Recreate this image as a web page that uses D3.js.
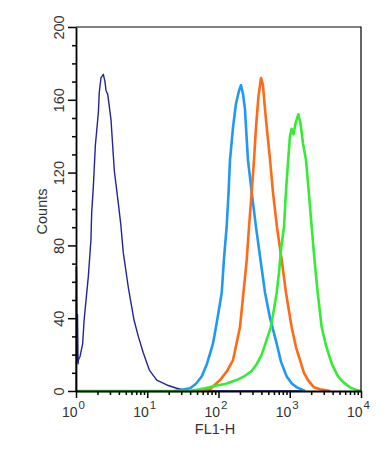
<!DOCTYPE html>
<html>
<head>
<meta charset="utf-8">
<script src="https://cdn.jsdelivr.net/npm/d3@7/dist/d3.min.js"></script>
<style>
  body { margin: 0; background: #fff; }
  svg text { font-family: "Liberation Sans", Arial, sans-serif; fill: #333; }
</style>
</head>
<body>
<svg id="chart" width="392" height="452"></svg>
<script>
// DATA (FL1-H channel value, counts)
var controlFL1 = [1.0, 1.005, 1.01, 1.015, 1.02, 1.03, 1.04, 1.05, 1.07, 1.08, 1.14, 1.24, 1.30, 1.49, 1.62, 1.66, 1.75, 1.87, 2.06, 2.12, 2.24, 2.42, 2.55, 2.64, 2.79, 3.10, 3.27, 3.45, 3.93, 4.24, 4.61, 5.42, 6.52, 7.49, 8.79, 10.7, 13.6, 18.8, 25.9, 33.9, 39.8, 1500];
var controlCounts = [0, 68, 20, 68, 62, 16, 42, 42, 15, 17, 19, 26, 39, 63, 83, 98, 112, 135, 153, 164, 172, 174, 170, 165, 163, 149, 135, 121, 103, 92, 76, 57, 39, 30, 21, 11.5, 6, 3.3, 1.5, 0.5, 0, 0];

var blueFL1 = [24.5, 40, 48.3, 58.1, 69, 83.7, 96.8, 111, 119, 130, 138, 145, 160, 176, 194, 207, 221, 235, 259, 295, 336, 389, 450, 529, 656, 754, 906, 1076, 1260, 1640];
var blueCounts = [0, 1.5, 4, 8, 15, 26, 40, 54, 72, 90, 108, 127, 145, 158, 165, 168, 163, 155, 127, 108, 90, 72, 54, 40, 26, 16, 8, 4, 2, 0];

var orangeFL1 = [40, 55, 76, 105, 132, 160, 200, 224, 249, 268, 292, 315, 336, 364, 395, 421, 442, 475, 529, 582, 662, 771, 886, 1064, 1224, 1393, 1585, 1803, 2188, 2660, 3670];
var orangeCounts = [0, 0.5, 1, 6, 11, 17, 35, 54, 72, 90, 109, 127, 145, 162, 172, 168, 158, 145, 127, 109, 90, 72, 54, 35, 24, 17, 10, 6, 2, 1, 0];

var greenFL1 = [1, 40, 64.6, 94.4, 127, 180, 228, 292, 347, 404, 464, 541, 602, 656, 707, 754, 830, 886, 955, 1007, 1064, 1129, 1205, 1318, 1415, 1535, 1690, 1863, 2033, 2225, 2467, 2808, 3227, 3880, 4755, 5585, 7016, 8710, 10000];
var greenCounts = [0, 0, 1.5, 3, 4, 6, 8, 11, 15, 20, 27, 35, 45, 54, 65, 78, 90, 110, 128, 140, 144, 141, 147, 152, 147, 136, 127, 108, 90, 72, 54, 35, 25, 15, 8, 5, 2, 0.5, 0];

var xMajor = [1, 10, 100, 1000, 10000];
var xExponents = ["0", "1", "2", "3", "4"];
var yMajor = [0, 40, 80, 120, 160, 200];

var series = [
  { fl1: controlFL1, counts: controlCounts, color: "#23239b", width: 1.4 },
  { fl1: blueFL1, counts: blueCounts, color: "#2398f0", width: 2.6 },
  { fl1: orangeFL1, counts: orangeCounts, color: "#ff6a16", width: 2.6 },
  { fl1: greenFL1, counts: greenCounts, color: "#33ec33", width: 2.6 }
];

// LAYOUT
var plotLeft = 76, plotRight = 361, plotTop = 27, plotBottom = 391;
var svg = d3.select("#chart");

var x = d3.scaleLog().domain([1, 10000]).range([plotLeft, plotRight]);
var y = d3.scaleLinear().domain([0, 200]).range([plotBottom, plotTop]);

// minor tick values
var xMinor = [];
xMajor.slice(0, 4).forEach(function (d) {
  for (var k = 2; k <= 9; k++) xMinor.push(d * k);
});
var yMinor = d3.range(0, 201, 10).filter(function (d) { return d % 40 !== 0; });

// CURVES
var line = d3.line()
  .x(function (d) { return x(d[0]); })
  .y(function (d) { return y(d[1]); });

series.forEach(function (s) {
  var pts = s.fl1.map(function (v, i) { return [v, s.counts[i]]; });
  svg.append("path")
    .datum(pts)
    .attr("d", line)
    .attr("fill", "none")
    .attr("stroke", s.color)
    .attr("stroke-width", s.width)
    .attr("stroke-linejoin", "round");
});

// FRAME (top, right)
svg.append("path")
  .attr("d", "M" + plotLeft + "," + plotTop + "H" + plotRight + "V" + plotBottom)
  .attr("fill", "none")
  .attr("stroke", "#000")
  .attr("stroke-width", 1.2);

// Y AXIS
svg.append("g")
  .attr("transform", "translate(" + plotLeft + ",0)")
  .call(d3.axisLeft(y).tickValues(yMinor).tickSize(4).tickFormat("").tickSizeOuter(0))
  .call(function (g) { g.select(".domain").remove(); })
  .selectAll("line").attr("stroke", "#000").attr("stroke-width", 1.5);

var yAxisG = svg.append("g")
  .attr("transform", "translate(" + plotLeft + ",0)")
  .call(d3.axisLeft(y).tickValues(yMajor).tickSize(8).tickSizeOuter(0));
yAxisG.select(".domain").attr("stroke", "#000").attr("stroke-width", 1.8);
yAxisG.selectAll("line").attr("stroke", "#000").attr("stroke-width", 1.5);
yAxisG.selectAll("text")
  .attr("transform", "rotate(-90)")
  .attr("x", 0)
  .attr("y", -12.5)
  .attr("dy", 0)
  .attr("text-anchor", "middle")
  .attr("font-size", 14.5)
  .attr("fill", "#333");

// X AXIS
svg.append("g")
  .attr("transform", "translate(0," + plotBottom + ")")
  .call(d3.axisBottom(x).tickValues(xMinor).tickSize(4).tickFormat("").tickSizeOuter(0))
  .call(function (g) { g.select(".domain").remove(); })
  .selectAll("line").attr("stroke", "#000").attr("stroke-width", 1.5);

var xAxisG = svg.append("g")
  .attr("transform", "translate(0," + plotBottom + ")")
  .call(d3.axisBottom(x).tickValues(xMajor).tickSize(7).tickSizeOuter(0).tickFormat(""));
xAxisG.select(".domain").attr("stroke", "#000").attr("stroke-width", 1.8);
xAxisG.selectAll("line").attr("stroke", "#000").attr("stroke-width", 1.5);
xAxisG.selectAll(".tick text").each(function (d, i) {
  var t = d3.select(this)
    .attr("y", 26)
    .attr("dy", 0)
    .attr("x", -14.5)
    .attr("text-anchor", "start")
    .attr("font-size", 14)
    .attr("fill", "#333");
  t.append("tspan").text("10");
  t.append("tspan").attr("dy", -8).attr("dx", 1).attr("font-size", 11.5).text(xExponents[i]);
});

// AXIS TITLES
svg.append("text")
  .attr("x", 215)
  .attr("y", 434)
  .attr("text-anchor", "middle")
  .attr("font-size", 14.5)
  .text("FL1-H");

svg.append("text")
  .attr("transform", "translate(46.5,211.5) rotate(-90)")
  .attr("text-anchor", "middle")
  .attr("font-size", 14.5)
  .text("Counts");
</script>
</body>
</html>
